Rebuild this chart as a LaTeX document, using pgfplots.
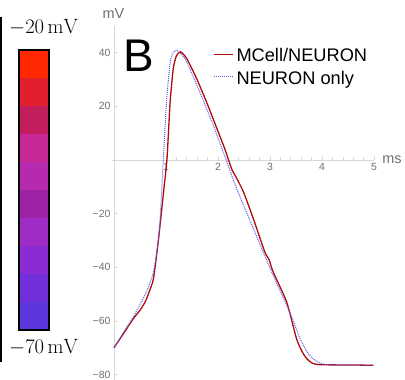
\documentclass[border=0pt]{standalone}
\usepackage[no-math]{fontspec}
\setmainfont{Liberation Sans}
\usepackage{pgfplots}
\pgfplotsset{compat=1.18}
\definecolor{c1}{HTML}{FF2800}
\definecolor{c2}{HTML}{E0202C}
\definecolor{c3}{HTML}{C21E5E}
\definecolor{c4}{HTML}{C82896}
\definecolor{c5}{HTML}{B62AB0}
\definecolor{c6}{HTML}{9C24A4}
\definecolor{c7}{HTML}{A02CC8}
\definecolor{c8}{HTML}{8A2CD4}
\definecolor{c9}{HTML}{7230DA}
\definecolor{c10}{HTML}{5E36DE}
\definecolor{mred}{HTML}{B00C0C}
\definecolor{nblue}{HTML}{5A5AF5}
\definecolor{tickgray}{HTML}{707070}
\definecolor{axgray}{HTML}{D8D8D8}
\begin{document}
\begin{tikzpicture}
\useasboundingbox (0,0) rectangle (405bp,-380bp);
\draw[line width=1.6bp] (1.3bp,-17bp) -- (1.3bp,-362bp);
% colour bar
\begin{axis}[at={(19bp,-330bp)}, anchor=south west, scale only axis,
  width=30bp, height=280bp, xmin=0, xmax=1, ymin=0, ymax=10,
  ticks=none, axis line style={line width=1.2bp, black}, axis on top]
\addplot[fill=c10, draw=none] coordinates {(0,0)(1,0)(1,1)(0,1)} -- cycle;
\addplot[fill=c9, draw=none] coordinates {(0,1)(1,1)(1,2)(0,2)} -- cycle;
\addplot[fill=c8, draw=none] coordinates {(0,2)(1,2)(1,3)(0,3)} -- cycle;
\addplot[fill=c7, draw=none] coordinates {(0,3)(1,3)(1,4)(0,4)} -- cycle;
\addplot[fill=c6, draw=none] coordinates {(0,4)(1,4)(1,5)(0,5)} -- cycle;
\addplot[fill=c5, draw=none] coordinates {(0,5)(1,5)(1,6)(0,6)} -- cycle;
\addplot[fill=c4, draw=none] coordinates {(0,6)(1,6)(1,7)(0,7)} -- cycle;
\addplot[fill=c3, draw=none] coordinates {(0,7)(1,7)(1,8)(0,8)} -- cycle;
\addplot[fill=c2, draw=none] coordinates {(0,8)(1,8)(1,9)(0,9)} -- cycle;
\addplot[fill=c1, draw=none] coordinates {(0,9)(1,9)(1,10)(0,10)} -- cycle;
\end{axis}
\node[anchor=base west, inner sep=0pt, font=\fontsize{20.5}{22}\selectfont] at (9bp,-33.3bp) {$-20\,\mathrm{mV}$};
\node[anchor=base west, inner sep=0pt, font=\fontsize{20.5}{22}\selectfont] at (9bp,-353bp) {$-70\,\mathrm{mV}$};
% main plot
\begin{axis}[at={(112.4bp,-380bp)}, anchor=south west, scale only axis,
  width=261.6bp, height=354.2bp, xmin=-0.03, xmax=5, ymin=-82, ymax=50,
  axis lines=middle, axis line style={axgray, line width=0.6bp, -},
  xtick={1,2,3,4,5}, xticklabels={1,2,3,4,5},
  ytick={-80,-60,-40,-20,20,40}, yticklabels={−80,−60,−40,−20,20,40},
  minor x tick num=4, minor y tick num=1,
  tick style={axgray, line width=0.6bp}, tick align=inside,
  major tick length=4bp, minor tick length=2.5bp,
  ticklabel style={font=\fontsize{10.5}{12}\selectfont, text=tickgray},
  clip=false,
  legend cell align=left,
  legend image code/.code={\path[draw=none, fill=none] (0bp,-6bp) rectangle (19bp,13bp); \draw[#1] (0bp,4bp) -- (19bp,4bp);},
  legend style={at={(rel axis cs:0.3846,0.9458)}, anchor=north west, draw=none, fill=none,
    inner sep=0pt, column sep=3bp, row sep=0pt,
    font=\fontsize{18.3}{19}\selectfont,
    nodes={inner sep=0pt, text height=13bp, text depth=6bp}},
]
\addplot[mred, line width=1.3bp, smooth, tension=0.35] coordinates {
(0,-70) (0.2,-64.2) (0.37,-59.2) (0.5,-56) (0.60,-52.9) (0.68,-49) (0.76,-44.2) (0.85,-30.6)
(0.92,-18.2) (0.96,-10.7) (1.02,0.5) (1.08,21.6) (1.14,34.0) (1.20,38.8) (1.28,40.3)
(1.40,37.8) (1.59,30.3) (1.78,21.6) (1.98,11.7) (2.13,4.2) (2.26,-3.2) (2.35,-6.5) (2.49,-11.9)
(2.68,-21.9) (2.90,-34.3) (2.98,-37) (3.06,-41.7) (3.32,-52.9) (3.51,-66.6) (3.62,-71.5) (3.71,-74.1)
(3.82,-75.8) (3.96,-76.3) (4.5,-76.4) (4.99,-76.5)
};
\addlegendentry{MCell/NEURON}
\addplot[nblue, line width=1.0bp, densely dotted, smooth, tension=0.35] coordinates {
(0,-70) (0.2,-63.8) (0.37,-58.5) (0.56,-51.7) (0.66,-47.5) (0.76,-41.7) (0.83,-33.5) (0.88,-24.3)
(0.95,0.5) (1.01,21.6) (1.08,36.5) (1.14,40.0) (1.21,40.9) (1.30,39.3) (1.40,36.5) (1.65,25.3)
(1.91,12.9) (2.10,3.0) (2.36,-10.7) (2.68,-25.6) (3.06,-43.0) (3.38,-56.7) (3.58,-66.6)
(3.72,-71.8) (3.83,-74.1) (3.95,-75.6) (4.10,-76.3) (4.5,-76.4) (4.99,-76.5)
};
\addlegendentry{NEURON only}
\end{axis}
\node[anchor=base west, inner sep=0pt, font=\fontsize{46}{46}\selectfont] at (123.3bp,-71.7bp) {B};
\node[text=tickgray, inner sep=0pt, font=\fontsize{14.5}{16}\selectfont] at (113.5bp,-14bp) {mV};
\node[text=tickgray, inner sep=0pt, font=\fontsize{14.5}{16}\selectfont] at (392bp,-160bp) {ms};
\end{tikzpicture}
\end{document}
